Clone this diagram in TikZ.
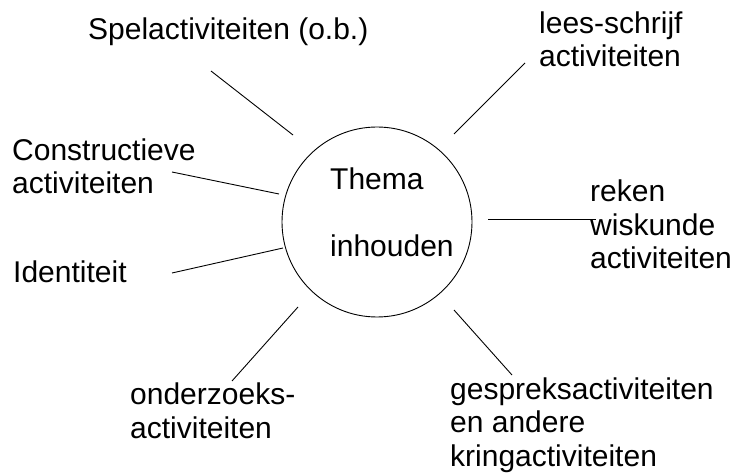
\documentclass[tikz,border=0pt]{standalone}
\usepackage{fontspec}
\setmainfont{Liberation Sans}
\usetikzlibrary{positioning}

\begin{document}
\begin{tikzpicture}[x=1pt, y=-1pt, every node/.style={font=\fontsize{30}{33.5}\selectfont, inner sep=0pt, align=left, anchor=base west}, spoke/.style={line width=0.9pt}]
\useasboundingbox (0,0) rectangle (734,473);
% centre
\node[circle, draw, line width=0.9pt, minimum size=190pt, anchor=center] (kern) at (377,222) {};
\node (thema) at (330,190) {Thema};
\node (inhoud) at (330,257) {inhouden};
% labels (anchored at the last line)
\node (spel) at (88,40) {Spelactiviteiten (o.b.)};
\node (lees) at (539,67) {lees-schrijf\\activiteiten};
\node (constr) at (12,194) {Constructieve\\activiteiten};
\node (ident) at (13,283) {Identiteit};
\node (reken) at (590,269) {reken\\wiskunde\\activiteiten};
\node (onderz) at (130,438) {onderzoeks-\\activiteiten};
\node (gesprek) at (450,466) {gespreksactiviteiten\\en andere\\kringactiviteiten};
% line ends
\coordinate (spel-a) at (211,71);   \coordinate (spel-b) at (293,135);
\coordinate (lees-a) at (525,63);   \coordinate (lees-b) at (454,134);
\coordinate (constr-a) at (172,172); \coordinate (constr-b) at (279,194);
\coordinate (ident-a) at (172,273); \coordinate (ident-b) at (283,248);
\coordinate (reken-a) at (596,219); \coordinate (reken-b) at (488,219);
\coordinate (onderz-a) at (232,381); \coordinate (onderz-b) at (298,307);
\coordinate (gesprek-a) at (512,375); \coordinate (gesprek-b) at (454,310);
\draw[spoke] (spel-a) -- (spel-b);
\draw[spoke] (lees-a) -- (lees-b);
\draw[spoke] (constr-a) -- (constr-b);
\draw[spoke] (ident-a) -- (ident-b);
\draw[spoke] (reken-a) -- (reken-b);
\draw[spoke] (onderz-a) -- (onderz-b);
\draw[spoke] (gesprek-a) -- (gesprek-b);
\end{tikzpicture}
\end{document}
